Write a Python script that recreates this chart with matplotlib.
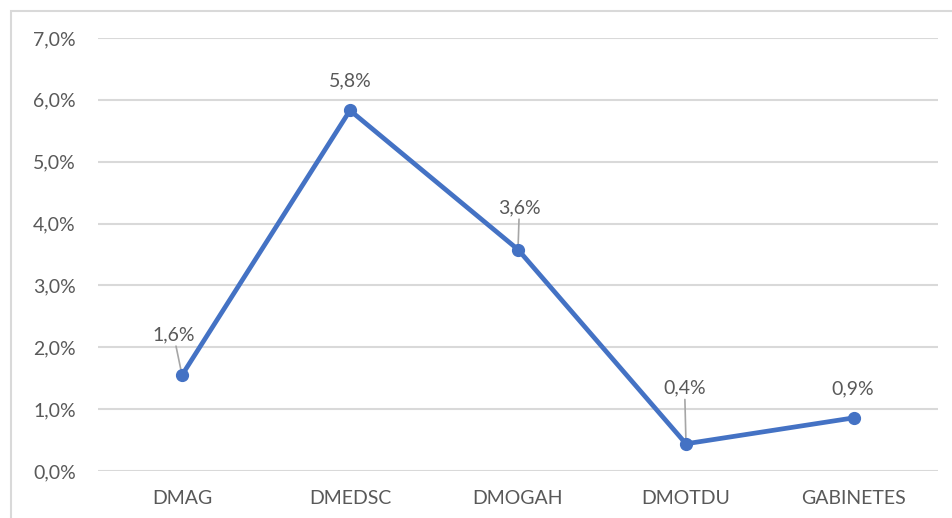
import matplotlib
matplotlib.use("Agg")
import matplotlib.pyplot as plt
from matplotlib.patches import Rectangle
from matplotlib.ticker import FuncFormatter, MultipleLocator

plt.rcParams['font.family'] = ['Lato', 'DejaVu Sans']

categorias = ["DMAG", "DMEDSC", "DMOGAH", "DMOTDU", "GABINETES"]
valores = [0.0155, 0.0583, 0.0358, 0.0044, 0.0086]
etiquetas = ["1,6%", "5,8%", "3,6%", "0,4%", "0,9%"]

# desplazamiento de las etiquetas (puntos) y si llevan línea guía
desp = [(-6, 29), (0, 21), (1, 30), (-1, 40), (-1, 21)]
guia = [True, False, True, True, False]

gris = "#595959"
azul = "#4472C4"

fig = plt.figure(figsize=(9.53, 5.18), dpi=100)
ax = fig.add_axes([98/953, 1-471/518, (938-98)/953, (471-38)/518])

x = list(range(len(categorias)))
ax.plot(x, valores, color=azul, lw=3.4, marker="o", ms=8.5, solid_capstyle="round", zorder=3)

for i in x:
    props = None
    if guia[i]:
        props = dict(arrowstyle="-", color="#A6A6A6", lw=1.2, shrinkA=0, shrinkB=0)
    ax.annotate(etiquetas[i], (x[i], valores[i]), xytext=desp[i], textcoords="offset points",
                ha="center", va="center", fontsize=14, color=gris, arrowprops=props, zorder=2)

ax.set_xlim(-0.5, len(categorias) - 0.5)
ax.set_ylim(0, 0.07)
ax.yaxis.set_major_locator(MultipleLocator(0.01))
ax.yaxis.set_major_formatter(FuncFormatter(lambda v, p: f"{v*100:.1f}%".replace(".", ",")))
ax.set_xticks(x)
ax.set_xticklabels(categorias)
ax.tick_params(axis="both", length=0, labelsize=14, labelcolor=gris)
ax.tick_params(axis="y", pad=16)
ax.tick_params(axis="x", pad=14)
ax.grid(axis="y", color="#D9D9D9", lw=1.5)
ax.set_axisbelow(True)
for s in ax.spines.values():
    s.set_visible(False)

fig.add_artist(Rectangle((11/953, -0.1), 1.2, 1.1 - 11/518, transform=fig.transFigure,
                         fill=False, edgecolor="#D9D9D9", lw=1.5, clip_on=False))

fig.savefig("out.png", dpi=100)
